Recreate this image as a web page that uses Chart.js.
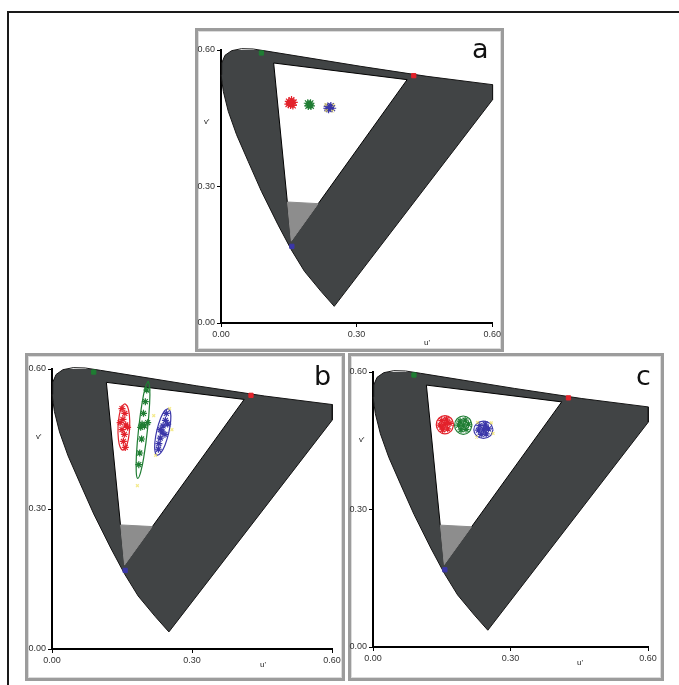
<!DOCTYPE html>
<html>
<head>
<meta charset="utf-8">
<script src="https://cdn.jsdelivr.net/npm/chart.js@4"></script>
<style>
  body { margin: 0; background: #fff; width: 679px; height: 685px; overflow: hidden; position: relative; font-family: Arial, "Liberation Sans", sans-serif; }
  .outer { position: absolute; left: 7px; top: 11px; width: 690px; height: 690px; border-left: 2px solid #1a1a1a; border-top: 2px solid #1a1a1a; }
  .panel { position: absolute; box-sizing: border-box; border: 3px solid #9c9c9c; box-shadow: inset 0 0 0 1px #dcdcdc; background: #fff; }
  canvas { position: absolute; }
  .tag { position: absolute; font-family: "DejaVu Sans", sans-serif; font-size: 27px; color: #111; line-height: normal; }
  .ax { position: absolute; font-size: 8px; color: #222; }
</style>
</head>
<body>
<div class="outer"></div>
<div class="panel" style="left:195px;top:28px;width:309px;height:324px"></div>
<div class="panel" style="left:25px;top:353px;width:320px;height:328px"></div>
<div class="panel" style="left:348px;top:353px;width:316px;height:328px"></div>

<canvas id="pa" width="306" height="320" style="left:197px;top:30px"></canvas>
<canvas id="pb" width="316" height="322" style="left:27px;top:356px"></canvas>
<canvas id="pc" width="313" height="322" style="left:349px;top:356px"></canvas>

<div class="tag" style="left:472px;top:33px">a</div>
<div class="tag" style="left:314px;top:360px">b</div>
<div class="tag" style="left:636px;top:360px">c</div>

<div class="ax" style="left:204px;top:117px">v'</div>
<div class="ax" style="left:424px;top:338px">u'</div>
<div class="ax" style="left:36px;top:432px">v'</div>
<div class="ax" style="left:260px;top:660px">u'</div>
<div class="ax" style="left:359px;top:435px">v'</div>
<div class="ax" style="left:577px;top:658px">u'</div>

<script>
// axis ticks (u', v')
const tickValues = [0, 0.3, 0.6];
const tickLabels = ['0.00', '0.30', '0.60'];

// full gamut outline (spectral locus + purple line), [u', v']
const locus = [[0.2505,0.0366],[0.2212,0.0696],[0.1846,0.1136],[0.1553,0.1612],[0.1260,0.2161],
  [0.0894,0.2894],[0.0601,0.3553],[0.0344,0.4139],[0.0161,0.4652],[0.0051,0.5092],[0.0000,0.5458],
  [0.0015,0.5714],[0.0088,0.5883],[0.0234,0.5985],[0.0454,0.6029],[0.0711,0.6022],[0.1040,0.5971],
  [0.3092,0.5641],[0.4557,0.5421],[0.6007,0.5238],[0.6007,0.4908],[0.2505,0.0366]];

// display gamut triangle and the grey wedge at its foot
const gamut = [[0.1165,0.5714],[0.4117,0.5348],[0.1553,0.1795],[0.1165,0.5714]];
const wedge = [[0.147,0.2659],[0.215,0.2623],[0.1553,0.1795],[0.147,0.2659]];

// primaries
const primGreen = [[0.0894,0.5934]];
const primRed = [[0.4264,0.5436]];
const primBlue = [[0.1568,0.1685]];

// panel a measurements
const aRed = [[0.150,0.487],[0.156,0.490],[0.161,0.485],[0.154,0.479],[0.159,0.478],[0.149,0.481],[0.155,0.484]];
const aGreen = [[0.192,0.483],[0.198,0.483],[0.193,0.477],[0.199,0.477],[0.196,0.480]];
const aBlue = [[0.236,0.476],[0.243,0.477],[0.246,0.472],[0.238,0.470],[0.241,0.474],[0.235,0.472]];
const aYellow = [[0.232,0.480],[0.249,0.479],[0.247,0.466],[0.233,0.467]];

// panel b measurements and ellipses
const bRed = [[0.150,0.515],[0.156,0.505],[0.152,0.492],[0.158,0.480],[0.150,0.470],[0.155,0.460],
  [0.153,0.445],[0.157,0.432],[0.146,0.485],[0.162,0.475]];
const bGreen = [[0.203,0.555],[0.200,0.530],[0.196,0.505],[0.193,0.482],[0.190,0.475],[0.198,0.478],
  [0.192,0.450],[0.188,0.420],[0.186,0.395],[0.205,0.485]];
const bBlue = [[0.245,0.505],[0.243,0.490],[0.238,0.478],[0.236,0.465],[0.232,0.452],[0.229,0.440],
  [0.242,0.460],[0.228,0.428],[0.248,0.482],[0.232,0.470]];
const bYellow = [[0.218,0.500],[0.257,0.470],[0.222,0.415],[0.252,0.515],[0.183,0.350]];
const bRedEll = [[0.156,0.526],[0.162,0.519],[0.1658,0.501],[0.1665,0.476],[0.1638,0.451],[0.1585,0.4327],
  [0.152,0.426],[0.146,0.4327],[0.1422,0.451],[0.1415,0.476],[0.1442,0.501],[0.1495,0.519],[0.156,0.526]];
const bGreenEll = [[0.2063,0.5745],[0.2095,0.560],[0.2089,0.5214],[0.2045,0.469],[0.1976,0.4169],[0.19,0.379],
  [0.1837,0.3655],[0.1805,0.380],[0.1811,0.4186],[0.1855,0.471],[0.1924,0.5231],[0.200,0.561],[0.2063,0.5745]];
const bBlueEll = [[0.2491,0.5154],[0.2539,0.5072],[0.2542,0.4878],[0.25,0.4624],[0.2424,0.4378],[0.2334,0.4206],
  [0.2255,0.4154],[0.2208,0.4236],[0.2205,0.443],[0.2247,0.4684],[0.2322,0.493],[0.2412,0.5102],[0.2491,0.5154]];

// panel c measurements and ellipses
const cRed = [[0.150,0.494],[0.160,0.497],[0.168,0.488],[0.163,0.476],[0.152,0.474],[0.146,0.484],[0.157,0.485],[0.162,0.490],[0.151,0.480]];
const cGreen = [[0.190,0.493],[0.201,0.495],[0.208,0.486],[0.203,0.475],[0.192,0.474],[0.187,0.484],[0.197,0.484]];
const cBlue = [[0.233,0.483],[0.245,0.486],[0.252,0.476],[0.247,0.465],[0.236,0.464],[0.230,0.473],[0.241,0.474],[0.246,0.478]];
const cYellow = [[0.228,0.490],[0.258,0.489],[0.262,0.466],[0.226,0.458]];
const cRedEll = [[0.176,0.485],[0.1704,0.4991],[0.157,0.505],[0.1436,0.4991],[0.138,0.485],[0.1436,0.4709],[0.157,0.465],[0.1704,0.4709],[0.176,0.485]];
const cGreenEll = [[0.216,0.484],[0.2104,0.4981],[0.197,0.504],[0.1836,0.4981],[0.178,0.484],[0.1836,0.4699],[0.197,0.464],[0.2104,0.4699],[0.216,0.484]];
const cBlueEll = [[0.262,0.474],[0.2558,0.4874],[0.241,0.493],[0.2262,0.4874],[0.22,0.474],[0.2262,0.4606],[0.241,0.455],[0.2558,0.4606],[0.262,0.474]];

const RED = '#e3222b', GREEN = '#1f7d33', BLUE = '#3b37a9', YEL = 'rgba(240,225,90,0.7)';

const pts = a => a.map(([x, y]) => ({x, y}));

function shape(data, fillColor, line, order) {
  return { data: pts(data), showLine: true, fill: 'shape', backgroundColor: fillColor,
    borderColor: line, borderWidth: 1, pointRadius: 0, order, clip: false };
}
function ring(data, color) {
  return { data: pts(data), showLine: true, fill: false, borderColor: color, borderWidth: 1.2,
    tension: 0.45, pointRadius: 0, order: 4 };
}
function marks(data, color, r, style) {
  return { data: pts(data), showLine: false, pointStyle: style || 'star', pointRadius: r,
    borderColor: color, backgroundColor: color, borderWidth: 1.2, order: 3 };
}
function prim(data, color) {
  return { data: pts(data), showLine: false, pointStyle: 'rect', pointRadius: 3,
    backgroundColor: color, borderColor: color, borderWidth: 1, order: 1, clip: false };
}
function base() {
  return [shape(locus, '#414445', '#151515', 10), shape(gamut, '#ffffff', '#000000', 9),
    shape(wedge, '#8d8d8d', '#8d8d8d', 8),
    prim(primGreen, GREEN), prim(primRed, RED), prim(primBlue, BLUE)];
}

function axis(isY) {
  return {
    type: 'linear', min: 0, max: 0.6,
    afterBuildTicks: s => { s.ticks = tickValues.map(v => ({ value: v })); },
    afterFit: s => { if (isY) s.width = 24; else s.height = 17; },
    grid: { drawOnChartArea: false, drawTicks: true, tickLength: 4, color: '#000', lineWidth: 1 },
    border: { display: true, color: '#000', width: 2 },
    ticks: { font: { family: 'Arial', size: 9 }, color: '#333', padding: 2, maxRotation: 0,
      autoSkip: false, callback: (v, i) => tickLabels[i] }
  };
}

function panel(id, pad, sets) {
  new Chart(document.getElementById(id), {
    type: 'scatter',
    data: { datasets: sets },
    options: {
      responsive: false, animation: false, events: [],
      layout: { padding: pad },
      plugins: { legend: { display: false }, tooltip: { enabled: false } },
      scales: { x: axis(false), y: axis(true) }
    }
  });
}

panel('pa', { left: 0, top: 20, right: 9, bottom: 10 }, base().concat([
  marks(aYellow, YEL, 2, 'crossRot'),
  marks(aRed, RED, 4), marks(aGreen, GREEN, 4), marks(aBlue, BLUE, 4)
]));

panel('pb', { left: 1, top: 13, right: 11, bottom: 12 }, base().concat([
  marks(bYellow, YEL, 2, 'crossRot'),
  ring(bRedEll, RED), ring(bGreenEll, GREEN), ring(bBlueEll, BLUE),
  marks(bRed, RED, 3.5), marks(bGreen, GREEN, 3.5), marks(bBlue, BLUE, 3.5)
]));

panel('pc', { left: 0, top: 16, right: 14, bottom: 14 }, base().concat([
  marks(cYellow, YEL, 2, 'crossRot'),
  ring(cRedEll, RED), ring(cGreenEll, GREEN), ring(cBlueEll, BLUE),
  marks(cRed, RED, 3.5), marks(cGreen, GREEN, 3.5), marks(cBlue, BLUE, 3.5)
]));
</script>
</body>
</html>
